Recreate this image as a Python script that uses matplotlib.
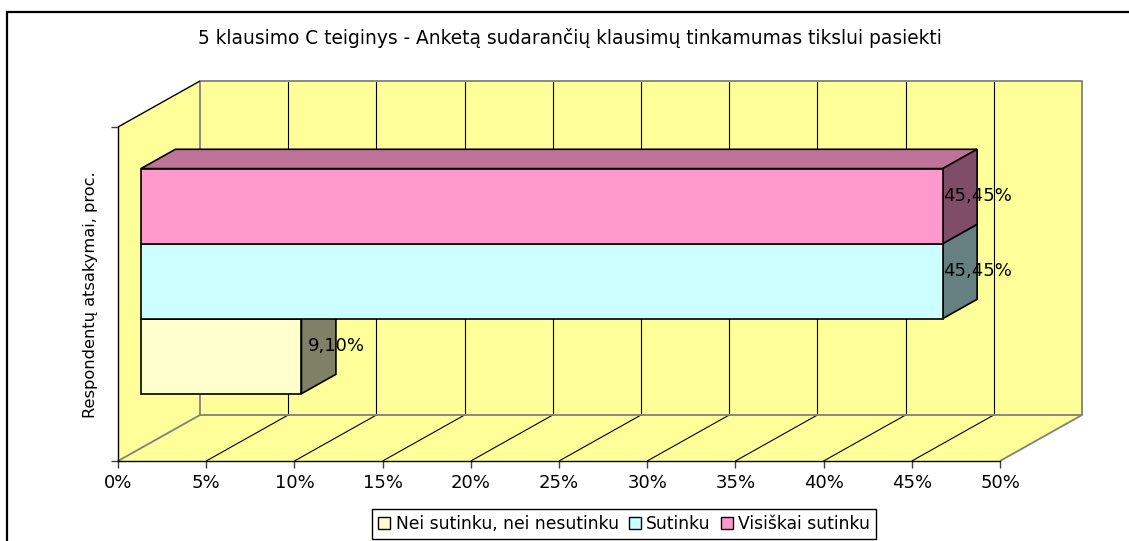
import numpy as np
import matplotlib
matplotlib.use("Agg")
import matplotlib.pyplot as plt
from matplotlib.patches import Polygon, Rectangle, Patch

# data
categories = ["Nei sutinku, nei nesutinku", "Sutinku", "Visiškai sutinku"]
values = [9.10, 45.45, 45.45]
value_labels = ["9,10%", "45,45%", "45,45%"]
xticks = [0, 5, 10, 15, 20, 25, 30, 35, 40, 45, 50]
xtick_labels = ["0%", "5%", "10%", "15%", "20%", "25%", "30%", "35%", "40%", "45%", "50%"]
title = "5 klausimo C teiginys - Anketą sudarančių klausimų tinkamumas tikslui pasiekti"
ylabel = "Respondentų atsakymai, proc."

front_colors = ["#FFFFCC", "#CCFFFF", "#FF99CC"]
top_colors = ["#BFBF99", "#99BFBF", "#BF7399"]
side_colors = ["#808066", "#668080", "#804D66"]
wall_color = "#FFFF99"
grey = "#808080"

W, H = 1129, 541
fig = plt.figure(figsize=(W / 100, H / 100), dpi=100)
fig.patch.set_facecolor("white")

# front plane of the 3d box
ax = fig.add_axes([118 / W, 80 / H, 882 / W, 334 / H])
xmax = 50
ax.set_xlim(0, xmax)
ax.set_ylim(0, 1)
ax.set_facecolor("none")

# depth of the box in data units
DX = 82 / 882 * xmax
DY = 46 / 334

def poly(pts, fc, ec="none", lw=1.0, z=1):
    p = Polygon(pts, closed=True, facecolor=fc, edgecolor=ec, lw=lw, zorder=z, clip_on=False)
    ax.add_patch(p)

def line(x, y, c="black", lw=0.8, z=2):
    ax.plot(x, y, color=c, lw=lw, zorder=z, clip_on=False, solid_capstyle="butt")

# walls and floor
poly([(0, 0), (0, 1), (DX, 1 + DY), (DX, DY)], wall_color)
poly([(DX, DY), (xmax + DX, DY), (xmax + DX, 1 + DY), (DX, 1 + DY)], wall_color)
poly([(0, 0), (xmax, 0), (xmax + DX, DY), (DX, DY)], wall_color)

# gridlines on back wall and floor
for k in xticks[1:-1]:
    line([k + DX, k + DX], [DY, 1 + DY])
    line([k, k + DX], [0, DY])

# wall edges
line([DX, xmax + DX, xmax + DX, DX, DX], [DY, DY, 1 + DY, 1 + DY, DY], c=grey, lw=1.3)
line([0, DX], [0, DY], c=grey, lw=1.3)
line([xmax, xmax + DX], [0, DY], c=grey, lw=1.3)
line([0, DX], [1, 1 + DY], c="black", lw=1.0)

# bars, stacked one above the other inside the single category
bar_h = 0.2246
start = 0.5 - 1.5 * bar_h
f1, f2 = 0.28, 0.70
for i in range(len(values)):
    v = values[i]
    b = start + i * bar_h
    t = b + bar_h
    x0 = f1 * DX
    y0 = f1 * DY
    xb = f2 * DX
    yb = f2 * DY
    # top face
    poly([(x0, t + y0), (x0 + v, t + y0), (xb + v, t + yb), (xb, t + yb)],
         top_colors[i], ec="black", lw=1.2, z=3 + i)
    # side face
    poly([(x0 + v, b + y0), (x0 + v, t + y0), (xb + v, t + yb), (xb + v, b + yb)],
         side_colors[i], ec="black", lw=1.2, z=3 + i)
    # front face
    ax.barh(b + y0, v, left=x0, height=bar_h, align="edge", color=front_colors[i],
            edgecolor="black", lw=1.2, zorder=3 + i, clip_on=False)
    ax.text(xb + v, b + bar_h / 2 + 0.49 * DY, value_labels[i], ha="center", va="center",
            fontsize=13, zorder=10)

# axes
for s in ["top", "right"]:
    ax.spines[s].set_visible(False)
for s in ["left", "bottom"]:
    ax.spines[s].set_color("black")
    ax.spines[s].set_linewidth(1.0)
    ax.spines[s].set_zorder(2.5)
ax.set_xticks(xticks)
ax.set_xticklabels(xtick_labels, fontsize=13)
ax.set_yticks([0, 1])
ax.set_yticklabels([])
ax.tick_params(axis="both", direction="out", length=5, width=1.0, color="#404040", pad=4)

fig.text(91 / W, 1 - 295 / H, ylabel, rotation=90, ha="center", va="center", fontsize=11.7)
fig.text(570 / W, 1 - 38 / H, title, ha="center", va="center", fontsize=13.4)

handles = [Patch(facecolor=c, edgecolor="black", lw=1.0) for c in front_colors]
leg = fig.legend(handles, categories, loc="upper center", bbox_to_anchor=(624 / W, 1 - 509 / H),
                 ncol=3, fontsize=12.3, frameon=True, fancybox=False, framealpha=1,
                 handlelength=0.7, handleheight=0.7, handletextpad=0.3, columnspacing=0.6,
                 borderpad=0.35, borderaxespad=0)
leg.get_frame().set_edgecolor("black")
leg.get_frame().set_linewidth(1.0)

# outer chart border (right and bottom edges are cut off in the original)
fig.patches.append(Rectangle((7 / W, -0.1), 2, 1.1 - 12 / H, transform=fig.transFigure,
                             fill=False, edgecolor="black", lw=1.6))

fig.savefig("out.png", dpi=100)
